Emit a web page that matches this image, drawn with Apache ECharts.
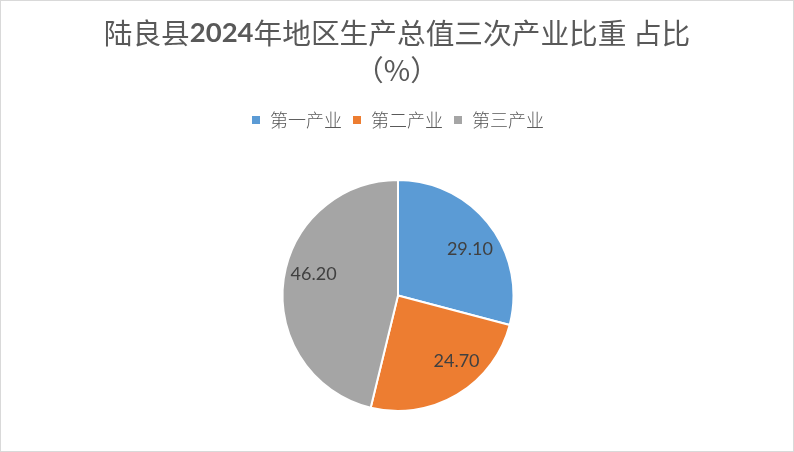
<!DOCTYPE html>
<html>
<head>
<meta charset="utf-8">
<script src="https://cdn.jsdelivr.net/npm/echarts@6/dist/echarts.min.js"></script>
<style>
html,body{margin:0;padding:0;background:#fff;}
#chart{width:792px;height:450px;border:1px solid #d9d9d9;}
</style>
</head>
<body>
<div id="chart"></div>
<script>
const categories = ['第一产业', '第二产业', '第三产业'];
const values = [29.10, 24.70, 46.20];

// styling (kept apart from the data)
const colors = ['#5B9BD5', '#ED7D31', '#A5A5A5'];
const labelOffsets = [[3, 6.5], [14, -9.5], [2, -10.5]];

const chart = echarts.init(document.getElementById('chart'));
chart.setOption({
  backgroundColor: '#fff',
  animation: false,
  title: {
    left: 'center',
    top: 14,
    padding: 0,
    text: '{a|陆良县}{b|2024}{a|年地区生产总值三次产业比重 占比}\n{a|（%）}',
    textStyle: {
      rich: {
        a: { fontFamily: 'Noto Sans CJK SC', fontWeight: 'normal', fontSize: 28.7, color: '#595959', lineHeight: 37 },
        b: { fontFamily: 'Lato', fontWeight: 'bold', fontSize: 27.5, color: '#595959', lineHeight: 37 }
      }
    }
  },
  legend: {
    top: 110,
    left: 'center',
    padding: 0,
    itemWidth: 10,
    itemHeight: 10,
    itemGap: 9,
    icon: 'rect',
    textStyle: { fontFamily: 'Noto Sans CJK SC', fontSize: 18, lineHeight: 18, color: '#595959', fontWeight: 300, padding: [0, 0, 0, 4] },
    data: categories
  },
  series: [
    {
      type: 'pie',
      center: [397, 294.5],
      radius: [0, 115.5],
      startAngle: 90,
      clockwise: true,
      label: { show: false },
      labelLine: { show: false },
      itemStyle: { borderColor: '#fff', borderWidth: 2 },
      emphasis: { disabled: true },
      data: categories.map((c, i) => ({ name: c, value: values[i], itemStyle: { color: colors[i] } }))
    },
    {
      type: 'pie',
      center: [397, 294.5],
      radius: [52.5, 115.5],
      startAngle: 90,
      clockwise: true,
      silent: true,
      legendHoverLink: false,
      itemStyle: { color: 'rgba(0,0,0,0)', borderWidth: 0 },
      label: {
        show: true,
        position: 'inside',
        formatter: p => p.value.toFixed(2),
        fontFamily: 'Lato',
        fontSize: 18,
        color: '#404040'
      },
      labelLine: { show: false },
      emphasis: { disabled: true },
      data: categories.map((c, i) => ({ name: c + ' ', value: values[i], label: { offset: labelOffsets[i] } }))
    }
  ]
});
</script>
</body>
</html>
